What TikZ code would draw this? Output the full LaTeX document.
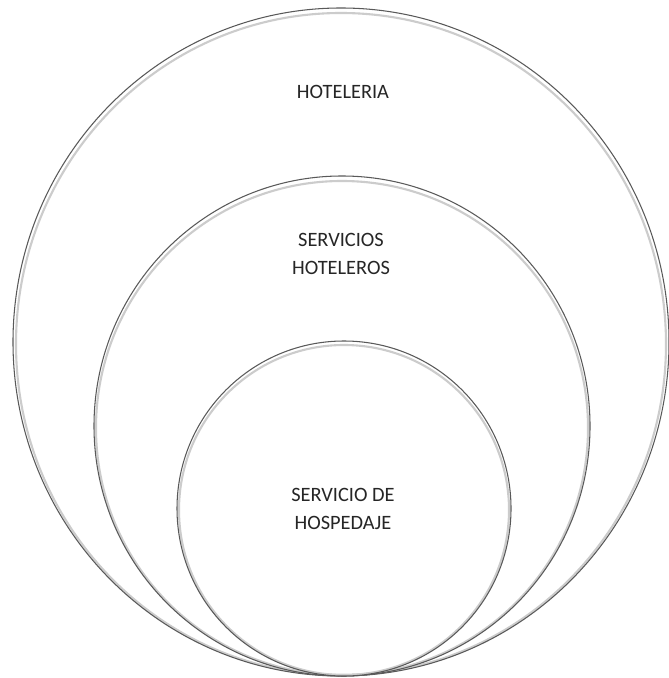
\documentclass[tikz,border=0pt]{standalone}
\usepackage{fontspec}
\setmainfont{Carlito}
\tikzset{
  ring/.style={draw=black!65, line width=0.6pt},
  ringshade/.style={draw=black!20, line width=1.2pt},
  label/.style={align=center, font=\fontsize{11.6}{15.9}\selectfont, text=black!85}
}
\begin{document}
\begin{tikzpicture}[x=0.02cm, y=-0.02cm]
  \useasboundingbox (0,0) rectangle (668,678);
  \fill[white] (0,0) rectangle (668,678);
  % outer ring
  \draw[ringshade] (341,344) ellipse (325 and 331);
  \draw[ring] (341,342) ellipse (328 and 334);
  % middle ring
  \draw[ringshade] (342,428) ellipse (246 and 247);
  \draw[ring] (342,426) ellipse (248 and 250);
  % inner ring
  \draw[ringshade] (344,510) ellipse (165 and 165);
  \draw[ring] (344,508.5) ellipse (167 and 167.5);
  \node[label] (hoteleria) at (343,92) {HOTELERIA};
  \node[label] (servicios) at (341,254) {SERVICIOS\\HOTELEROS};
  \node[label] (hospedaje) at (343,509) {SERVICIO DE\\HOSPEDAJE};
\end{tikzpicture}
\end{document}
